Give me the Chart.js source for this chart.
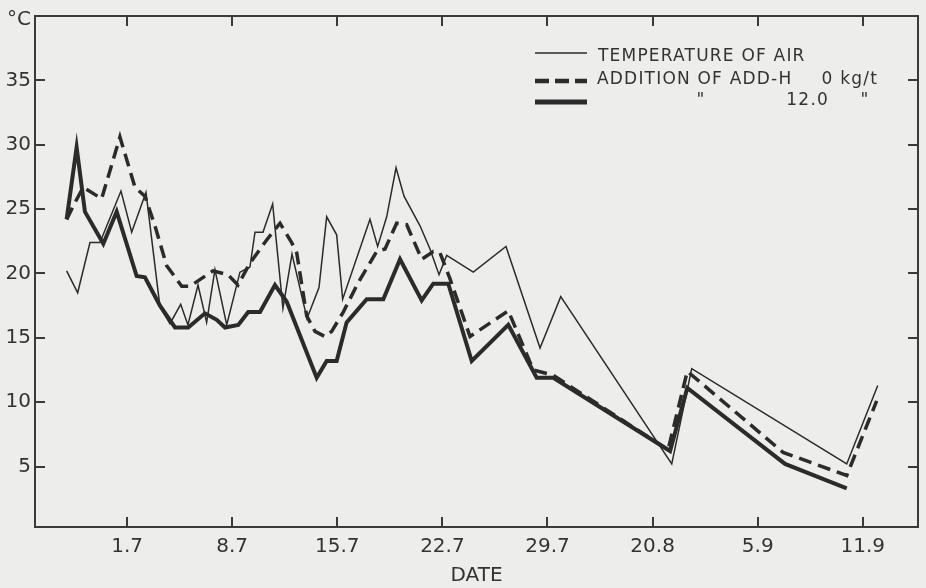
<!DOCTYPE html>
<html>
<head>
<meta charset="utf-8">
<script src="https://cdn.jsdelivr.net/npm/chart.js@4.4.1/dist/chart.umd.min.js"></script>
<style>
  html, body { margin: 0; padding: 0; background: #ededeb; }
  #wrap { width: 926px; height: 588px; }
</style>
</head>
<body>
<div id="wrap"><canvas id="c" width="926" height="588"></canvas></div>
<script>
// x positions are in tick units: 1 = 1.7, 2 = 8.7 ... 8 = 11.9
const dateLabels = ['1.7', '8.7', '15.7', '22.7', '29.7', '20.8', '5.9', '11.9'];
const xTicks = [1, 2, 3, 4, 5, 6, 7, 8];
const yTicks = [5, 10, 15, 20, 25, 30, 35];

// temperature of air
const airX = [0.425, 0.53, 0.647, 0.742, 0.942, 1.044, 1.18, 1.313, 1.408, 1.51, 1.579, 1.675, 1.757, 1.836,
  1.948, 2.074, 2.169, 2.217, 2.293, 2.385, 2.483, 2.569, 2.712, 2.826, 2.899, 2.994, 3.051, 3.311, 3.384,
  3.47, 3.559, 3.635, 3.787, 3.882, 3.968, 4.041, 4.294, 4.605, 4.929, 5.126, 6.182, 6.372, 7.847, 8.142];
const airT = [20.2, 18.5, 22.4, 22.4, 26.4, 23.2, 26.3, 17.4, 16.1, 17.6, 16.0, 19.1, 16.2, 20.3,
  16.0, 20.1, 20.5, 23.2, 23.2, 25.4, 17.3, 21.5, 16.5, 18.9, 24.4, 23.0, 18.0, 24.2, 22.1,
  24.4, 28.2, 26.0, 23.7, 21.9, 19.9, 21.4, 20.1, 22.1, 14.2, 18.2, 5.2, 12.6, 5.2, 11.3];

// ADD-H 0 kg/t
const add0X = [0.425, 0.504, 0.583, 0.758, 0.932, 1.075, 1.17, 1.265, 1.377, 1.52, 1.598, 1.817, 1.96, 2.055,
  2.169, 2.328, 2.455, 2.566, 2.614, 2.709, 2.788, 2.883, 2.947, 3.057, 3.2, 3.375, 3.454, 3.565, 3.66,
  3.803, 3.913, 3.977, 4.072, 4.263, 4.627, 4.865, 5.052, 6.147, 6.33, 7.241, 7.847, 8.132];
const add0T = [24.2, 25.5, 26.7, 25.8, 30.6, 26.7, 26.0, 23.7, 20.6, 19.0, 19.0, 20.2, 19.9, 19.1,
  20.8, 22.6, 23.9, 22.4, 21.6, 16.7, 15.5, 15.1, 15.5, 17.0, 19.3, 21.7, 21.9, 23.9, 23.8,
  21.1, 21.7, 21.6, 19.6, 15.1, 17.1, 12.5, 12.1, 6.3, 12.4, 6.1, 4.3, 10.1];

// ADD-H 12.0 kg/t
const add12X = [0.425, 0.52, 0.599, 0.774, 0.901, 1.091, 1.17, 1.313, 1.456, 1.582, 1.741, 1.853, 1.932,
  2.058, 2.153, 2.265, 2.407, 2.519, 2.804, 2.899, 2.994, 3.089, 3.28, 3.438, 3.597, 3.803, 3.913,
  4.056, 4.279, 4.627, 4.897, 5.055, 6.166, 6.33, 7.26, 7.847];
const add12T = [24.2, 29.8, 24.8, 22.3, 24.8, 19.8, 19.7, 17.5, 15.8, 15.8, 16.9, 16.4, 15.8,
  16.0, 17.0, 17.0, 19.1, 17.8, 11.9, 13.2, 13.2, 16.2, 18.0, 18.0, 21.1, 17.9, 19.2,
  19.2, 13.2, 16.0, 11.9, 11.9, 6.2, 11.1, 5.2, 3.3];

const ink = '#2b2b2b';
const pts = (xs, ys) => xs.map((x, i) => ({ x: x, y: ys[i] }));

// frame, inward ticks, unit and the hand drawn legend
const paperPlot = {
    id: 'paperPlot',
    beforeDraw(chart) {
        const ctx = chart.ctx;
        ctx.save();
        ctx.fillStyle = '#ededeb';
        ctx.fillRect(0, 0, chart.width, chart.height);
        ctx.restore();
    },
    afterDraw(chart) {
        const ctx = chart.ctx;
        const a = chart.chartArea;
        const xs = chart.scales.x, ys = chart.scales.y;
        ctx.save();
        ctx.strokeStyle = '#3a3a3a';
        ctx.lineWidth = 2;
        ctx.strokeRect(a.left, a.top, a.right - a.left, a.bottom - a.top);

        const tl = 10;
        ctx.beginPath();
        xTicks.forEach(v => {
            const px = Math.round(xs.getPixelForValue(v));
            ctx.moveTo(px, a.bottom); ctx.lineTo(px, a.bottom - tl);
            ctx.moveTo(px, a.top); ctx.lineTo(px, a.top + tl);
        });
        yTicks.forEach(v => {
            const py = Math.round(ys.getPixelForValue(v));
            ctx.moveTo(a.left, py); ctx.lineTo(a.left + tl, py);
            ctx.moveTo(a.right, py); ctx.lineTo(a.right - tl, py);
        });
        ctx.stroke();

        ctx.fillStyle = '#333';
        ctx.font = '20px "DejaVu Sans"';
        ctx.textAlign = 'right';
        ctx.textBaseline = 'alphabetic';
        ctx.fillText('°C', 31, 25);

        // legend
        const ds = chart.data.datasets;
        const rows = [
            { y: 53, ty: 57, text: [['TEMPERATURE OF AIR', 598, 'left']] },
            { y: 81, ty: 80, text: [['ADDITION OF ADD-H', 597, 'left'], ['0 kg/t', 878, 'right']] },
            { y: 102, ty: 101, text: [['"', 701, 'center'], ['12.0', 829, 'right'], ['"', 865, 'center']] }
        ];
        ctx.font = '17px "DejaVu Sans"';
        ctx.letterSpacing = '1.2px';
        ctx.textBaseline = 'middle';
        rows.forEach((r, i) => {
            const d = ds[i];
            ctx.save();
            ctx.strokeStyle = ink;
            ctx.lineWidth = d.borderWidth + (i === 0 ? 0 : 0.8);
            ctx.setLineDash(d.borderDash ? [14, 6] : []);
            ctx.beginPath();
            ctx.moveTo(535, r.y); ctx.lineTo(587, r.y);
            ctx.stroke();
            ctx.restore();
            r.text.forEach(t => {
                ctx.textAlign = t[2];
                ctx.fillText(t[0], t[1], r.ty);
            });
        });
        ctx.restore();
    }
};

new Chart(document.getElementById('c'), {
    type: 'line',
    data: {
        datasets: [
            { label: 'TEMPERATURE OF AIR', data: pts(airX, airT), borderColor: ink, borderWidth: 1.5 },
            { label: 'ADDITION OF ADD-H 0 kg/t', data: pts(add0X, add0T), borderColor: ink, borderWidth: 3.5, borderDash: [13, 7] },
            { label: '12.0 kg/t', data: pts(add12X, add12T), borderColor: ink, borderWidth: 4 }
        ]
    },
    options: {
        responsive: false,
        animation: false,
        devicePixelRatio: 1,
        layout: { padding: { left: 0, right: 8, top: 12, bottom: 0 } },
        elements: {
            point: { radius: 0 },
            line: { tension: 0, borderJoinStyle: 'miter', borderCapStyle: 'butt', fill: false }
        },
        plugins: { legend: { display: false }, tooltip: { enabled: false } },
        scales: {
            x: {
                type: 'linear',
                min: 0.124,
                max: 8.525,
                afterBuildTicks: s => { s.ticks = xTicks.map(v => ({ value: v })); },
                afterFit: s => { s.height = 61; },
                grid: { display: false, drawTicks: false },
                border: { display: false },
                ticks: {
                    padding: 8,
                    color: '#333',
                    font: { family: 'DejaVu Sans', size: 20 },
                    maxRotation: 0,
                    callback: v => dateLabels[v - 1]
                },
                title: {
                    display: true,
                    text: 'DATE',
                    color: '#333',
                    font: { family: 'DejaVu Sans', size: 20 },
                    padding: { top: 0, bottom: 0 }
                }
            },
            y: {
                min: 0.3,
                max: 40,
                afterBuildTicks: s => { s.ticks = yTicks.map(v => ({ value: v })); },
                afterFit: s => { s.width = 35; },
                grid: { display: false, drawTicks: false },
                border: { display: false },
                ticks: {
                    padding: 4,
                    color: '#333',
                    font: { family: 'DejaVu Sans', size: 20 }
                }
            }
        }
    },
    plugins: [paperPlot]
});
</script>
</body>
</html>
